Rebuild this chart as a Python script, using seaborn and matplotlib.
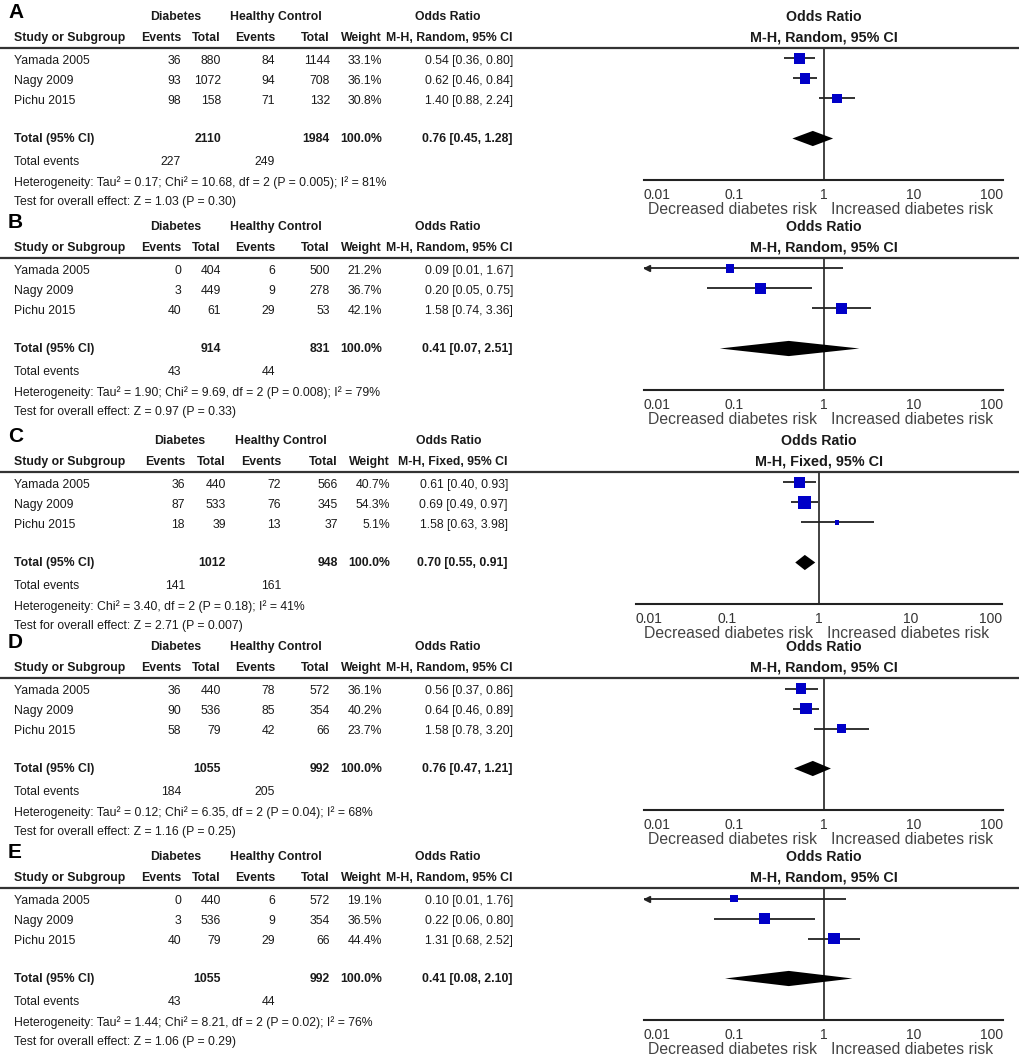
import numpy as np
import matplotlib
matplotlib.use("Agg")
import matplotlib.pyplot as plt
import seaborn as sns

sns.set_style("white")
FONT = "Liberation Sans"
plt.rcParams["font.family"] = [FONT, "DejaVu Sans"]

# ---- data ----
panels = ["A", "B", "C", "D", "E"]
methods = ["Random", "Random", "Fixed", "Random", "Random"]
studies = ["Yamada 2005", "Nagy 2009", "Pichu 2015"]
dia_events = [[36, 93, 98], [0, 3, 40], [36, 87, 18], [36, 90, 58], [0, 3, 40]]
dia_total = [[880, 1072, 158], [404, 449, 61], [440, 533, 39], [440, 536, 79], [440, 536, 79]]
hc_events = [[84, 94, 71], [6, 9, 29], [72, 76, 13], [78, 85, 42], [6, 9, 29]]
hc_total = [[1144, 708, 132], [500, 278, 53], [566, 345, 37], [572, 354, 66], [572, 354, 66]]
weights = [[33.1, 36.1, 30.8], [21.2, 36.7, 42.1], [40.7, 54.3, 5.1], [36.1, 40.2, 23.7], [19.1, 36.5, 44.4]]
or_est = [[0.54, 0.62, 1.40], [0.09, 0.20, 1.58], [0.61, 0.69, 1.58], [0.56, 0.64, 1.58], [0.10, 0.22, 1.31]]
or_lo = [[0.36, 0.46, 0.88], [0.01, 0.05, 0.74], [0.40, 0.49, 0.63], [0.37, 0.46, 0.78], [0.01, 0.06, 0.68]]
or_hi = [[0.80, 0.84, 2.24], [1.67, 0.75, 3.36], [0.93, 0.97, 3.98], [0.86, 0.89, 3.20], [1.76, 0.80, 2.52]]
pooled_est = [0.76, 0.41, 0.70, 0.76, 0.41]
pooled_lo = [0.45, 0.07, 0.55, 0.47, 0.08]
pooled_hi = [1.28, 2.51, 0.91, 1.21, 2.10]
dia_sum_total = [2110, 914, 1012, 1055, 1055]
hc_sum_total = [1984, 831, 948, 992, 992]
dia_sum_events = [227, 43, 141, 184, 43]
hc_sum_events = [249, 44, 161, 205, 44]
heterogeneity = [
    "Heterogeneity: Tau² = 0.17; Chi² = 10.68, df = 2 (P = 0.005); I² = 81%",
    "Heterogeneity: Tau² = 1.90; Chi² = 9.69, df = 2 (P = 0.008); I² = 79%",
    "Heterogeneity: Chi² = 3.40, df = 2 (P = 0.18); I² = 41%",
    "Heterogeneity: Tau² = 0.12; Chi² = 6.35, df = 2 (P = 0.04); I² = 68%",
    "Heterogeneity: Tau² = 1.44; Chi² = 8.21, df = 2 (P = 0.02); I² = 76%",
]
overall = [
    "Test for overall effect: Z = 1.03 (P = 0.30)",
    "Test for overall effect: Z = 0.97 (P = 0.33)",
    "Test for overall effect: Z = 2.71 (P = 0.007)",
    "Test for overall effect: Z = 1.16 (P = 0.25)",
    "Test for overall effect: Z = 1.06 (P = 0.29)",
]
ticks = [0.01, 0.1, 1, 10, 100]
tick_labels = ["0.01", "0.1", "1", "10", "100"]

# ---- layout (pixels) ----
W, H = 1020, 1063
offsets = [0, 210, 424, 630, 840]
cols_random = dict(ev1=181, tot1=221, ev2=275, tot2=330, wt=382, orr=513, dia=176, hc=276, orc=448, fx0=644, fx1=1003)
cols_fixed = dict(ev1=185, tot1=226, ev2=281, tot2=338, wt=390, orr=508, dia=180, hc=281, orc=449, fx0=636, fx1=1002)
row_y = [61, 81, 101]
TXT = "#1a1a1a"
FS = 8.8

fig = plt.figure(figsize=(W / 100, H / 100), dpi=100)
bg = fig.add_axes([0, 0, 1, 1])
bg.set_xlim(0, W)
bg.set_ylim(H, 0)
bg.axis("off")


def t(x, y, s, ha="left", bold=False, size=FS, color=TXT):
    bg.text(x, y, s, ha=ha, va="center", fontsize=size, color=color,
            fontweight="bold" if bold else "normal")


for p in range(5):
    off = offsets[p]
    c = cols_fixed if methods[p] == "Fixed" else cols_random
    t(8, off + 13, panels[p], bold=True, size=15, color="black")
    t(c["dia"], off + 17, "Diabetes", ha="center", bold=True)
    t(c["hc"], off + 17, "Healthy Control", ha="center", bold=True)
    t(c["orc"], off + 17, "Odds Ratio", ha="center", bold=True)
    t(14, off + 38, "Study or Subgroup", bold=True)
    t(c["ev1"], off + 38, "Events", ha="right", bold=True)
    t(c["tot1"], off + 38, "Total", ha="right", bold=True)
    t(c["ev2"], off + 38, "Events", ha="right", bold=True)
    t(c["tot2"], off + 38, "Total", ha="right", bold=True)
    t(c["wt"], off + 38, "Weight", ha="right", bold=True)
    t(c["orr"], off + 38, f"M-H, {methods[p]}, 95% CI", ha="right", bold=True)
    bg.hlines(off + 48, 0, W, color="#333333", lw=1.6)

    for i, s in enumerate(studies):
        y = off + row_y[i]
        t(14, y, s)
        t(c["ev1"], y, str(dia_events[p][i]), ha="right")
        t(c["tot1"], y, str(dia_total[p][i]), ha="right")
        t(c["ev2"], y, str(hc_events[p][i]), ha="right")
        t(c["tot2"], y, str(hc_total[p][i]), ha="right")
        t(c["wt"], y, f"{weights[p][i]:.1f}%", ha="right")
        t(c["orr"], y, f"{or_est[p][i]:.2f} [{or_lo[p][i]:.2f}, {or_hi[p][i]:.2f}]", ha="right")

    y = off + 139
    t(14, y, "Total (95% CI)", bold=True)
    t(c["tot1"], y, str(dia_sum_total[p]), ha="right", bold=True)
    t(c["tot2"], y, str(hc_sum_total[p]), ha="right", bold=True)
    t(c["wt"], y, "100.0%", ha="right", bold=True)
    t(c["orr"], y, f"{pooled_est[p]:.2f} [{pooled_lo[p]:.2f}, {pooled_hi[p]:.2f}]", ha="right", bold=True)
    t(14, off + 162, "Total events")
    t(c["ev1"], off + 162, str(dia_sum_events[p]), ha="right")
    t(c["ev2"], off + 162, str(hc_sum_events[p]), ha="right")
    t(14, off + 183, heterogeneity[p])
    t(14, off + 202, overall[p])

    # forest plot axes
    fx0, fx1 = c["fx0"], c["fx1"]
    top, bot = off + 48, off + 180
    ax = fig.add_axes([fx0 / W, 1 - bot / H, (fx1 - fx0) / W, (bot - top) / H])
    ax.patch.set_alpha(0)
    ax.set_xscale("log")
    ax.set_xlim(0.01, 100)
    ax.set_ylim((bot - off - 58.5) / 20, (top - off - 58.5) / 20)
    x_one = fx0 + (fx1 - fx0) / 2

    rows = np.arange(3)
    for i in range(3):
        lo = max(or_lo[p][i], 0.01)
        ax.hlines(rows[i], lo, or_hi[p][i], color="#222222", lw=1.3, zorder=2)
        if or_lo[p][i] <= 0.01:
            ax.plot([0.0107], [rows[i]], marker="<", ms=5, color="#222222", zorder=2, clip_on=False)
    sns.scatterplot(x=or_est[p], y=rows, size=weights[p], sizes=(0, 165), size_norm=(0, 100),
                    marker="s", color="#0000c8", linewidth=0, legend=False, ax=ax, zorder=3)
    r = 4
    ax.fill([pooled_lo[p], pooled_est[p], pooled_hi[p], pooled_est[p]],
            [r, r - 0.38, r, r + 0.38], color="black", lw=0, zorder=3)
    ax.axvline(1, color="#333333", lw=1.3, zorder=1)

    for sp in ["top", "left", "right"]:
        ax.spines[sp].set_visible(False)
    ax.spines["bottom"].set_color("#222222")
    ax.spines["bottom"].set_linewidth(1.5)
    ax.set_yticks([])
    ax.set_xticks(ticks)
    ax.set_xticklabels(tick_labels)
    ax.minorticks_off()
    ax.tick_params(axis="x", direction="inout", length=9, width=1.5, color="#222222",
                   labelsize=10, labelcolor="#333333", pad=1)
    labs = ax.get_xticklabels()
    labs[0].set_ha("left")
    labs[-1].set_ha("right")
    ax.set_xlabel("")
    ax.set_ylabel("")

    t(x_one, off + 17, "Odds Ratio", ha="center", bold=True, size=10.2)
    t(x_one, off + 38, f"M-H, {methods[p]}, 95% CI", ha="center", bold=True, size=10.4)
    t(x_one - 6, off + 210, "Decreased diabetes risk", ha="right", size=11.3, color="#444444")
    t(x_one + 8, off + 210, "Increased diabetes risk", ha="left", size=11.3, color="#444444")

fig.savefig("out.png", dpi=100)
